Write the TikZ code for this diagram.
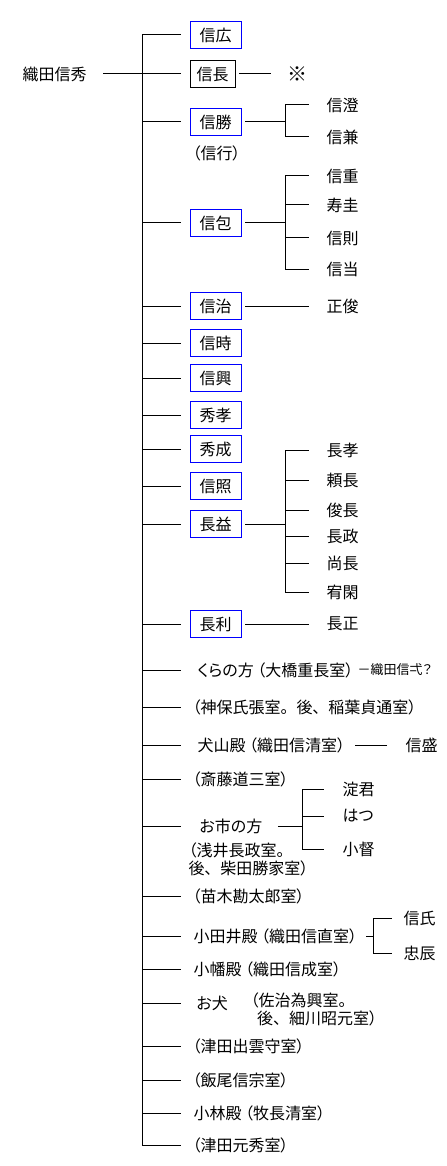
\documentclass[tikz,border=0pt]{standalone}
\usepackage{fontspec}
\setmainfont[RawFeature=+palt]{Noto Sans CJK JP}
\usetikzlibrary{positioning, calc}
\newcommand\zmaru{\makebox[12pt][l]{。}}
\newcommand\ztou{\makebox[12pt][l]{、}}

\begin{document}
\begin{tikzpicture}[
    x=0.75pt, y=-0.75pt, line width=0.75pt,
    son/.style={draw=blue, minimum width=38.25pt, minimum height=20.25pt, inner sep=0pt, outer sep=3pt, anchor=west, font=\fontsize{12}{14}\selectfont},
    heir/.style={son, draw=black, minimum width=33.75pt},
    lbl/.style={anchor=west, inner sep=0pt, align=left, font=\fontsize{12}{13.5}\selectfont},
    note/.style={lbl, font=\fontsize{9.75}{11}\selectfont}
]
    \useasboundingbox (0,0) rectangle (446,1166);
    \coordinate (trunk) at (142,0);
    \coordinate (fork) at (285,0);
    \coordinate (ichifork) at (302,0);
    \coordinate (odaifork) at (373,0);

    % father
    \node[lbl] (nobuhide) at (22,74) {織田信秀};
    \draw (nobuhide.east) ++(16,0) -- (trunk |- nobuhide.east);
    \draw (142,35) -- (142,1145);

    % sons
    \node[son]  (nobuhiro)  at (186,35)  {信広};
    \node[heir] (nobunaga)  at (186,74)  {信長};
    \node[son]  (nobukatsu) at (186,122) {信勝};
    \node[lbl]  (nobuyuki)  at (192,153) {（信行）};
    \node[son]  (nobukane)  at (186,223) {信包};
    \node[son]  (nobuharu)  at (186,306) {信治};
    \node[son]  (nobutoki)  at (186,343) {信時};
    \node[son]  (nobuoki)   at (186,378) {信興};
    \node[son]  (hidetaka)  at (186,415) {秀孝};
    \node[son]  (hidenari)  at (186,449) {秀成};
    \node[son]  (nobuteru)  at (186,486) {信照};
    \node[son]  (nagamasu)  at (186,524) {長益};
    \node[son]  (nagatoshi) at (186,624) {長利};

    % daughters
    \node[lbl]  (kura)     at (197,670)  {くらの方 （大橋重長室）};
    \node[note] (kuranote) at (357,670)  {－織田信弌？};
    \node[lbl]  (jinbo)    at (192,707)  {（神保氏張室\zmaru 後\ztou 稲葉貞通室）};
    \node[lbl]  (inuyama)  at (197,745)  {犬山殿 （織田信清室）};
    \node[lbl]  (saito)    at (192,779)  {（斎藤道三室）};
    \node[lbl]  (ichi)     at (199,826)  {お市の方};
    \node[lbl]  (ichinote) at (188,859)  {（浅井長政室。\\後\ztou 柴田勝家室）};
    \node[lbl]  (naegi)    at (192,896)  {（苗木勘太郎室）};
    \node[lbl]  (odai)     at (193,936)  {小田井殿 （織田信直室）};
    \node[lbl]  (obata)    at (193,969)  {小幡殿 （織田信成室）};
    \node[lbl]  (oinu)     at (196,1003) {お犬};
    \node[lbl]  (oinunote) at (250,1009) {（佐治為興室。\\\hspace*{5pt}後\ztou 細川昭元室）};
    \node[lbl]  (izumo)    at (192,1046) {（津田出雲守室）};
    \node[lbl]  (iio)      at (192,1080) {（飯尾信宗室）};
    \node[lbl]  (kobayashi) at (193,1113) {小林殿 （牧長清室）};
    \node[lbl]  (motohide) at (192,1145) {（津田元秀室）};

    \foreach \n in {nobuhiro, nobunaga, nobukatsu, nobukane, nobuharu, nobutoki, nobuoki,
                    hidetaka, hidenari, nobuteru, nagamasu, nagatoshi, kura, jinbo, inuyama,
                    saito, ichi, naegi, odai, obata, oinu, izumo, iio, kobayashi, motohide}
        \draw (trunk |- \n.west) -- ++(39,0);

    % grandchildren
    \node[lbl, font=\fontsize{15}{15}\selectfont] (mark) at (287,74) {※};
    \draw (nobunaga.east) -- ++(32,0);

    \node[lbl] (nobuzumi) at (326,105) {信澄};
    \node[lbl] (nobukane2) at (326,137) {信兼};
    \draw (nobukatsu.east) -- (fork |- nobukatsu.east);
    \draw (fork |- nobuzumi.west) -- (fork |- nobukane2.west);
    \foreach \c in {nobuzumi, nobukane2} \draw (fork |- \c.west) -- ++(24,0);

    \node[lbl] (nobushige) at (326,176) {信重};
    \node[lbl] (jukei)     at (326,205) {寿圭};
    \node[lbl] (nobunori)  at (326,238) {信則};
    \node[lbl] (nobumasa)  at (326,269) {信当};
    \draw (nobukane.east) -- (fork |- nobukane.east);
    \draw (fork |- nobushige.west) -- (fork |- nobumasa.west);
    \foreach \c in {nobushige, jukei, nobunori, nobumasa} \draw (fork |- \c.west) -- ++(24,0);

    \node[lbl] (masatoshi) at (326,306) {正俊};
    \draw (nobuharu.east) -- (masatoshi.west -| 309,0);

    \node[lbl] (nagataka)  at (326,450) {長孝};
    \node[lbl] (yorinaga)  at (326,480) {頼長};
    \node[lbl] (toshinaga) at (326,510) {俊長};
    \node[lbl] (nagamasa)  at (326,536) {長政};
    \node[lbl] (naonaga)   at (326,563) {尚長};
    \node[lbl] (yukan)     at (326,592) {宥閑};
    \draw (nagamasu.east) -- (fork |- nagamasu.east);
    \draw (fork |- nagataka.west) -- (fork |- yukan.west);
    \foreach \c in {nagataka, yorinaga, toshinaga, nagamasa, naonaga, yukan} \draw (fork |- \c.west) -- ++(24,0);

    \node[lbl] (nagamasa2) at (326,624) {長正};
    \draw (nagatoshi.east) -- (nagamasa2.west -| 309,0);

    \node[lbl] (nobumori) at (405,745) {信盛};
    \draw (nobumori.west) ++(-18,0) -- ++(-32,0);

    \node[lbl] (yodo) at (342,789) {淀君};
    \node[lbl] (hatsu) at (342,816) {はつ};
    \node[lbl] (ogou) at (342,849) {小督};
    \draw (ichi.east) ++(15,0) -- (ichifork |- ichi.east);
    \draw (ichifork |- yodo.west) -- (ichifork |- ogou.west);
    \foreach \c in {yodo, hatsu, ogou} \draw (ichifork |- \c.west) -- ++(22,0);

    \node[lbl] (nobuuji) at (403,918) {信氏};
    \node[lbl] (tadatoki) at (403,953) {忠辰};
    \draw (odaifork |- odai.east) ++(-7,0) -- (odaifork |- odai.east);
    \draw (odaifork |- nobuuji.west) -- (odaifork |- tadatoki.west);
    \foreach \c in {nobuuji, tadatoki} \draw (odaifork |- \c.west) -- ++(19,0);
\end{tikzpicture}
\end{document}
